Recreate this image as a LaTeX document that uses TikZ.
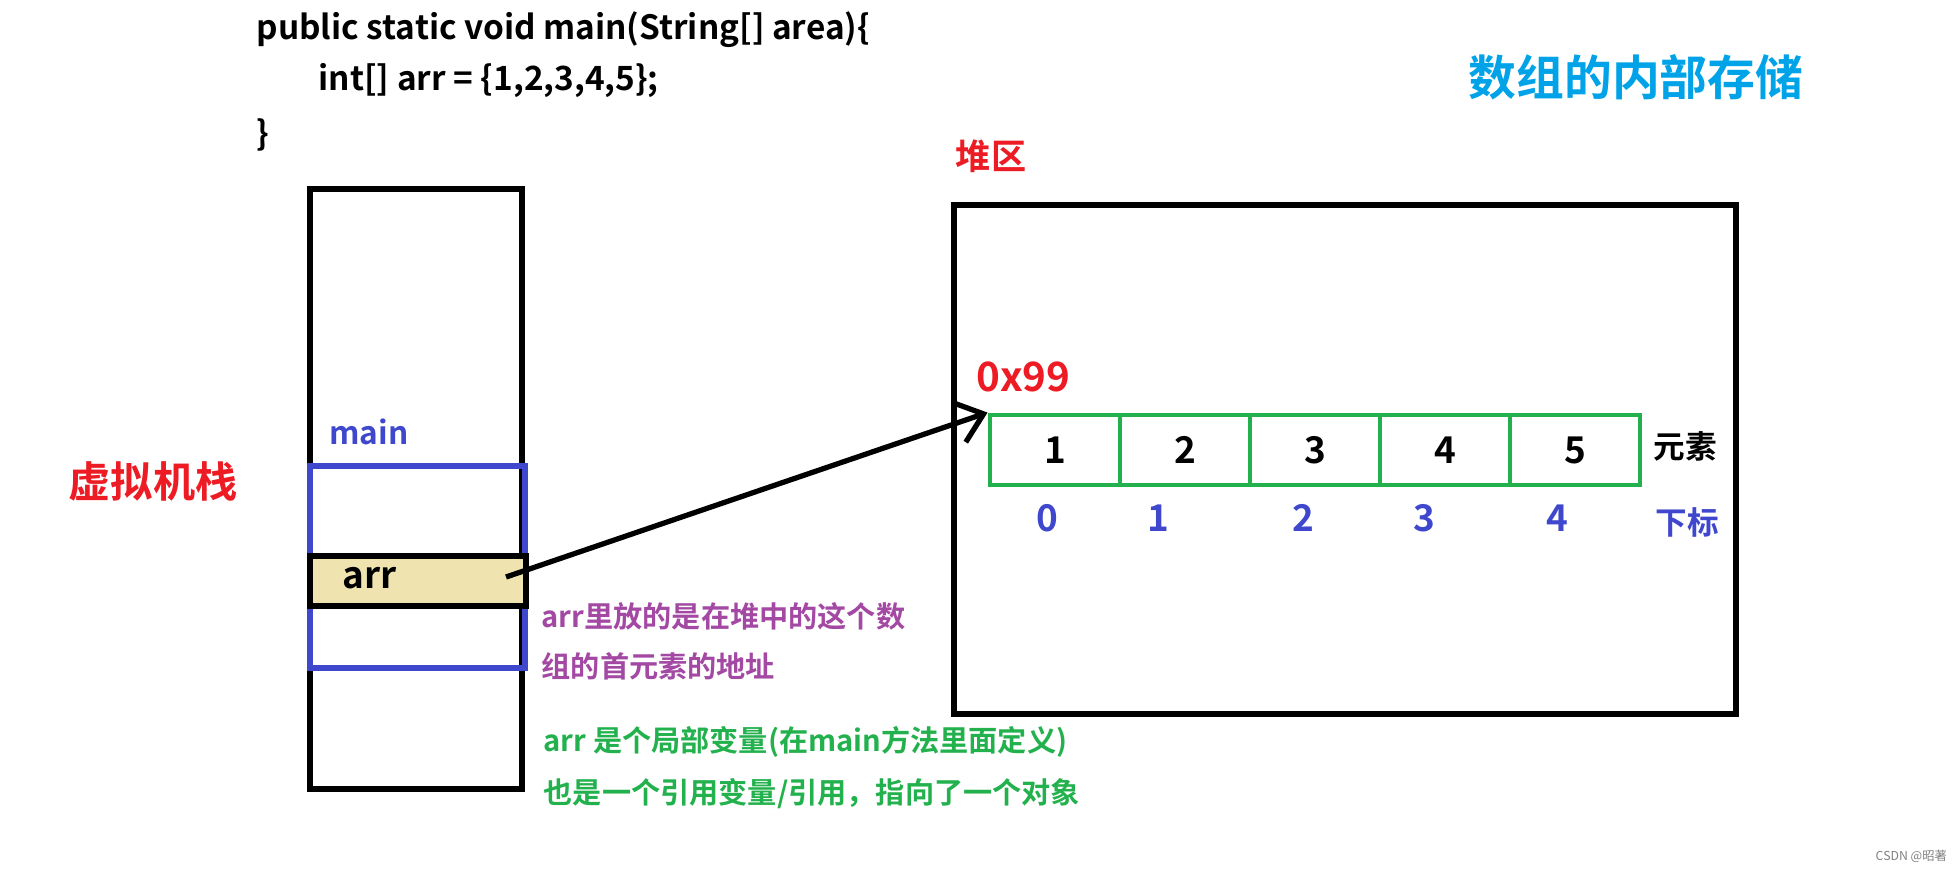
\documentclass[tikz,border=0pt]{standalone}
\usepackage{fontspec}
\setmainfont{Noto Sans CJK SC}[BoldFont=* Bold]
\usepackage{tikz}
\usepackage{xcolor}
\usetikzlibrary{arrows.meta,calc,positioning}
\definecolor{pred}{RGB}{237,28,36}
\definecolor{pcyan}{RGB}{0,162,232}
\definecolor{pblue}{RGB}{63,72,204}
\definecolor{pgreen}{RGB}{34,177,76}
\definecolor{ppurple}{RGB}{163,73,164}
\definecolor{psand}{RGB}{239,228,176}
\tikzset{%
	code/.style     = {anchor=west, inner sep=0pt, font=\bfseries\fontsize{9.5}{11}\selectfont},
	frame/.style    = {draw, line width=1.8pt}, % Stack / heap
	slot/.style     = {draw, fill=psand, line width=1.8pt, rectangle, minimum width=2.16cm, minimum height=0.5cm}, % Variable
	cell/.style     = {draw=pgreen, line width=1.4pt, rectangle, minimum width=1.3cm, minimum height=0.7cm, font=\bfseries\fontsize{10.5}{12}\selectfont}, % Element
	idx/.style      = {text=pblue, font=\bfseries\fontsize{10.5}{12}\selectfont}, % Index
	note/.style     = {anchor=west, inner sep=0pt, font=\bfseries\fontsize{8.3}{10}\selectfont},
	ptr/.style      = {-{Straight Barb[length=2.6mm,width=4.2mm]}, line width=1.5pt},
}
\begin{document}
\begin{tikzpicture}[node distance = 1.3cm]
		\useasboundingbox (0,0) rectangle (19.58,-8.71);
		\node[code] (l1) at (2.56,-0.30) {public static void main(String[] area)\{};
		\node[code] (l2) at (3.18,-0.81) {int[] arr = \{1,2,3,4,5\};};
		\node[code] (l3) at (2.56,-1.35) {\}};
		\node[text=pcyan, font=\bfseries\fontsize{13.6}{16}\selectfont] (title) at (16.36,-0.77) {数组的内部存储};
		% stack
		\node[text=pred, font=\bfseries\fontsize{12}{14}\selectfont] (vms) at (1.53,-4.81) {虚拟机栈};
		\draw[frame] (3.10,-1.89) rectangle (5.22,-7.89);
		\node[anchor=west, text=pblue, font=\bfseries\fontsize{9}{11}\selectfont] (main) at (3.17,-4.32) {main};
		\draw[frame, draw=pblue, line width=1.6pt] (3.10,-4.66) rectangle (5.25,-6.68);
		\node[slot] (arr) at (4.18,-5.81) {};
		\node[anchor=west, font=\bfseries\fontsize{10.5}{12}\selectfont] (arrt) at (3.30,-5.78) {arr};
		\coordinate (arrp) at (5.06,-5.77);
		% heap
		\node[text=pred, font=\bfseries\fontsize{10}{12}\selectfont] (heap) at (9.91,-1.56) {堆区};
		\draw[frame] (9.54,-2.05) rectangle (17.36,-7.14);
		\node[anchor=west, text=pred, font=\bfseries\fontsize{11.5}{13}\selectfont] (addr) at (9.64,-3.77) {0x99};
		\node[cell] (c1) at (10.55,-4.50) {1};
		\node[cell, right of=c1] (c2) {2};
		\node[cell, right of=c2] (c3) {3};
		\node[cell, right of=c3] (c4) {4};
		\node[cell, right of=c4] (c5) {5};
		\node[anchor=west, font=\bfseries\fontsize{9}{10}\selectfont] (elem) at (16.41,-4.46) {元素};
		\node[idx] (i0) at (10.47,-5.18) {0};
		\node[idx] (i1) at (11.58,-5.18) {1};
		\node[idx] (i2) at (13.03,-5.18) {2};
		\node[idx] (i3) at (14.24,-5.18) {3};
		\node[idx] (i4) at (15.57,-5.18) {4};
		\node[anchor=west, text=pblue, font=\bfseries\fontsize{9}{10}\selectfont] (sub) at (16.43,-5.22) {下标};
		\draw[ptr] (arrp) -- (c1.north west);
		% notes
		\node[note, text=ppurple] (n1) at (5.41,-6.16) {arr里放的是在堆中的这个数};
		\node[note, text=ppurple] (n2) at (5.41,-6.66) {组的首元素的地址};
		\node[note, text=pgreen] (n3) at (5.43,-7.42) {arr 是个局部变量(在main方法里面定义)};
		\node[note, text=pgreen] (n4) at (5.43,-7.94) {也是一个引用变量/引用，指向了一个对象};
		\node[anchor=west, inner sep=0pt, text=gray, font=\fontsize{3.5}{4}\selectfont] (wm) at (18.75,-8.56) {CSDN @昭著};
		\end{tikzpicture}
\end{document}
